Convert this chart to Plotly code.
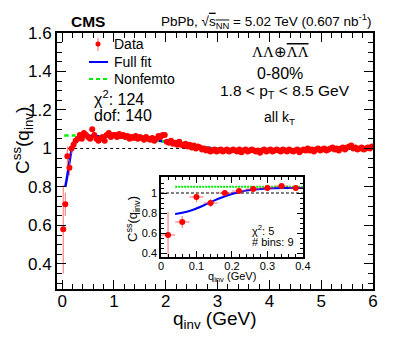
import plotly.graph_objects as go

# ---------------- data ----------------
bin_width = 0.04
values = [
    0.58, 0.71, 0.96, 0.90, 1.00, 1.02, 1.04, 1.05, 1.07, 1.05,
    1.08, 1.07, 1.06, 1.05, 1.10, 1.07, 1.05, 1.04, 1.05, 1.06,
    1.04, 1.07, 1.08, 1.06, 1.07, 1.07, 1.06, 1.075, 1.065, 1.07,
    1.06, 1.065, 1.05, 1.06, 1.055, 1.065, 1.05, 1.06, 1.055, 1.045,
    1.06, 1.05, 1.045, 1.055, 1.04, 1.05, 1.065, 1.06, 1.07, 1.07,
    1.035, 1.03, 1.04, 1.025, 1.03, 1.02, 1.035, 1.02, 1.015, 1.025,
    1.01, 1.02, 1.005, 1.015, 1.0, 1.01, 1.005, 0.995, 1.0, 0.99,
    0.995, 0.985, 0.99, 0.995, 0.985, 0.99, 0.995, 0.985, 0.99, 0.995,
    0.985, 0.99, 0.995, 0.99, 0.985, 0.995, 0.98, 0.99, 0.995, 0.985,
    0.99, 0.995, 0.99, 0.985, 0.99, 0.978, 0.99, 0.995, 0.985, 0.99,
    0.995, 0.985, 0.99, 0.995, 0.99, 0.985, 0.995, 0.99, 0.985, 0.995,
    0.99, 0.985, 0.99, 0.995, 0.98, 0.99, 0.995, 0.99, 1.0, 0.99,
    0.995, 0.985, 0.995, 1.0, 0.99, 0.995, 1.0, 0.99, 0.995, 1.0,
    1.005, 0.995, 1.0, 0.99, 1.0, 1.005, 0.995, 1.005, 1.01, 1.015,
    1.0, 1.005, 0.995, 1.0, 1.005, 0.995, 1.0, 1.005, 1.0, 1.01,
]
errors = [
    0.23, 0.06, 0.05, 0.04, 0.03, 0.02, 0.015, 0.012, 0.012, 0.011,
    0.011, 0.01, 0.01, 0.01, 0.01, 0.01, 0.01, 0.01, 0.01, 0.01,
    0.009, 0.009, 0.009, 0.009, 0.009, 0.009, 0.009, 0.009, 0.009, 0.009,
    0.008, 0.008, 0.008, 0.008, 0.008, 0.008, 0.008, 0.008, 0.008, 0.008,
    0.008, 0.008, 0.008, 0.008, 0.008, 0.008, 0.008, 0.008, 0.008, 0.008,
    0.007, 0.007, 0.007, 0.007, 0.007, 0.007, 0.007, 0.007, 0.007, 0.007,
    0.007, 0.007, 0.007, 0.007, 0.007, 0.007, 0.007, 0.007, 0.007, 0.007,
    0.007, 0.007, 0.007, 0.007, 0.007, 0.007, 0.007, 0.007, 0.007, 0.007,
    0.007, 0.007, 0.007, 0.007, 0.007, 0.007, 0.007, 0.007, 0.007, 0.007,
    0.007, 0.007, 0.007, 0.007, 0.007, 0.007, 0.007, 0.007, 0.007, 0.007,
    0.007, 0.007, 0.007, 0.007, 0.007, 0.007, 0.007, 0.007, 0.007, 0.007,
    0.007, 0.007, 0.007, 0.007, 0.007, 0.007, 0.007, 0.007, 0.007, 0.007,
    0.007, 0.007, 0.007, 0.007, 0.007, 0.007, 0.007, 0.007, 0.007, 0.007,
    0.007, 0.007, 0.007, 0.007, 0.007, 0.007, 0.007, 0.007, 0.007, 0.007,
    0.007, 0.007, 0.007, 0.007, 0.007, 0.007, 0.007, 0.007, 0.007, 0.007,
]
q_centers = [round(bin_width * (i + 0.5), 2) for i in range(len(values))]

# non-femtoscopic background
bg_q = [0.04, 0.5, 1.0, 1.5, 2.0, 2.5, 3.0, 3.5, 4.0, 4.5, 5.0, 5.5, 6.0]
bg_val = [1.068, 1.066, 1.06, 1.05, 1.035, 1.015, 0.998, 0.992, 0.991, 0.993, 0.995, 0.998, 1.0]

# full fit (blue)
fit_q = [0.06, 0.10, 0.14, 0.18, 0.22, 0.26, 0.30, 0.36, 0.5, 1.0, 1.5, 2.0, 2.5, 3.0, 3.5, 4.0, 4.5, 5.0, 5.5, 6.0]
fit_val = [0.80, 0.86, 0.93, 0.99, 1.03, 1.05, 1.06, 1.066, 1.066, 1.06, 1.05, 1.035, 1.015, 0.998, 0.992, 0.991, 0.993, 0.995, 0.998, 1.0]

# inset
n_inset = 10
inset_fit_q = [0.04, 0.08, 0.12, 0.16, 0.20, 0.24, 0.28, 0.32, 0.36, 0.40]
inset_fit_val = [0.79, 0.82, 0.875, 0.94, 0.99, 1.025, 1.04, 1.048, 1.05, 1.05]
inset_bg_q = [0.04, 0.40]
inset_bg_val = [1.062, 1.062]

main_xticks = [0, 1, 2, 3, 4, 5, 6]
main_yticks = [0.4, 0.6, 0.8, 1.0, 1.2, 1.4, 1.6]
main_yticklabels = ["0.4", "0.6", "0.8", "1", "1.2", "1.4", "1.6"]
inset_xticks = [0, 0.1, 0.2, 0.3, 0.4]
inset_xticklabels = ["0", "0.1", "0.2", "0.3", "0.4"]
inset_yticks = [0.4, 0.6, 0.8, 1.0]
inset_yticklabels = ["0.4", "0.6", "0.8", "1"]

# ---------------- figure ----------------
SANS = "Liberation Sans, Arial, Helvetica, sans-serif"
SERIF = "Liberation Serif, Times New Roman, serif"
RED = "#ff0000"
ERRC = "rgba(255,60,60,0.75)"
BLUE = "#0000ff"
GREEN = "#00ee00"

fig = go.Figure()

# main reference line at 1
fig.add_trace(go.Scatter(x=[0, 6], y=[1, 1], mode="lines",
                         line=dict(color="black", width=1, dash="3px,3px"),
                         xaxis="x", yaxis="y", hoverinfo="skip"))
fig.add_trace(go.Scatter(x=fit_q, y=fit_val, mode="lines", line_shape="spline",
                         line=dict(color=BLUE, width=2.5), xaxis="x", yaxis="y"))
fig.add_trace(go.Scatter(x=bg_q, y=bg_val, mode="lines", line_shape="spline",
                         line=dict(color=GREEN, width=2.5, dash="4px,3px"), xaxis="x", yaxis="y"))
fig.add_trace(go.Scatter(x=q_centers, y=values, mode="markers",
                         marker=dict(color=RED, size=6),
                         error_y=dict(type="data", array=errors, color=ERRC, thickness=1, width=0),
                         error_x=dict(type="constant", value=bin_width / 2, color=ERRC, thickness=1, width=0),
                         xaxis="x", yaxis="y"))

# inset
fig.add_trace(go.Scatter(x=[0, 0.4], y=[1, 1], mode="lines",
                         line=dict(color="black", width=1, dash="3px,2px"),
                         xaxis="x2", yaxis="y2", hoverinfo="skip"))
fig.add_trace(go.Scatter(x=inset_bg_q, y=inset_bg_val, mode="lines",
                         line=dict(color=GREEN, width=2, dash="2px,1px"), xaxis="x2", yaxis="y2"))
fig.add_trace(go.Scatter(x=inset_fit_q, y=inset_fit_val, mode="lines", line_shape="spline",
                         line=dict(color=BLUE, width=2), xaxis="x2", yaxis="y2"))
fig.add_trace(go.Scatter(x=q_centers[:n_inset], y=values[:n_inset], mode="markers",
                         marker=dict(color=RED, size=6),
                         error_y=dict(type="data", array=errors[:n_inset], color=ERRC, thickness=1, width=0),
                         error_x=dict(type="constant", value=bin_width / 2, color=ERRC, thickness=1, width=0),
                         xaxis="x2", yaxis="y2"))

axis_common = dict(showgrid=False, zeroline=False, showline=True, linecolor="black",
                   mirror="allticks", ticks="inside", tickcolor="black")

fig.update_layout(
    width=407, height=337,
    margin=dict(l=57, r=34, t=33, b=48),
    paper_bgcolor="white", plot_bgcolor="white",
    showlegend=False,
    font=dict(family=SANS, color="black"),
    xaxis=dict(**axis_common, range=[-0.1, 6], domain=[0, 1], anchor="y",
               tickvals=main_xticks, ticklen=9, tickwidth=1, linewidth=2,
               ticklabelstandoff=-4,
               minor=dict(dtick=0.2, ticklen=5, ticks="inside", tickcolor="black"),
               tickfont=dict(size=17, family=SANS)),
    yaxis=dict(**axis_common, range=[0.27, 1.6], domain=[0, 1], anchor="x",
               tickvals=main_yticks, ticktext=main_yticklabels, ticklen=9, tickwidth=1, linewidth=2,
               minor=dict(dtick=0.05, ticklen=5, ticks="inside", tickcolor="black"),
               tickfont=dict(size=17, family=SANS)),
    xaxis2=dict(**axis_common, range=[0, 0.4], domain=[0.329, 0.778], anchor="y2",
                tickvals=inset_xticks, ticktext=inset_xticklabels, ticklen=6, tickwidth=1, linewidth=1.5,
                ticklabelstandoff=-2,
                minor=dict(dtick=0.02, ticklen=3, ticks="inside", tickcolor="black"),
                tickfont=dict(size=11, family=SANS)),
    yaxis2=dict(**axis_common, range=[0.36, 1.16], domain=[0.125, 0.4375], anchor="x2",
                tickvals=inset_yticks, ticktext=inset_yticklabels, ticklen=6, tickwidth=1, linewidth=1.5,
                minor=dict(dtick=0.05, ticklen=3, ticks="inside", tickcolor="black"),
                tickfont=dict(size=11, family=SANS)),
)

def px(xp):
    return (xp - 57) / 316.0

def py(yp):
    return (289 - yp) / 256.0

ann = []
def add_text(text, x, y, size, xanchor="left", family=SANS, angle=0, yanchor="middle"):
    ann.append(dict(text=text, x=px(x), y=py(y), xref="paper", yref="paper",
                    xanchor=xanchor, yanchor=yanchor, showarrow=False, textangle=angle,
                    font=dict(size=size, family=family, color="black")))

add_text("<b>CMS</b>", 88, 21, 15.5, xanchor="center")
add_text("PbPb, √<span style='text-decoration:overline'>s<sub>NN</sub></span> = 5.02 TeV (0.607 nb<sup>-1</sup>)",
         373, 21, 13.5, xanchor="right")
add_text("Data", 112, 44, 14)
add_text("Full fit", 112, 62, 14)
add_text("Nonfemto", 112, 79, 14)
add_text("χ<sup>2</sup>: 124", 92, 98, 16)
add_text("dof: 140", 92, 115, 16)
add_text("ΛΛ⊕<span style='text-decoration:overline'>ΛΛ</span>", 280, 52, 15, xanchor="center", family=SERIF)
add_text("0-80%", 280, 73, 16, xanchor="center")
add_text("1.8 &lt; p<sub>T</sub> &lt; 8.5 GeV", 285, 91, 15.5, xanchor="center")
add_text("all k<sub>T</sub>", 279, 118, 14, xanchor="center")
add_text("q<sub>inv</sub> (GeV)", 215, 320, 19, xanchor="center")
add_text("C<sup>ss</sup>(q<sub>inv</sub>)", 22, 141, 19, xanchor="center", angle=-90)
add_text("χ<sup>2</sup>: 5", 250, 230, 11)
add_text("# bins: 9", 250, 242, 11)
add_text("q<sub>inv</sub> (GeV)", 232, 277, 11, xanchor="center")
add_text("C<sup>ss</sup>(q<sub>inv</sub>)", 133, 219, 13, xanchor="center", angle=-90)
fig.update_layout(annotations=ann)

# manual legend symbols
shapes = [
    dict(type="line", xref="paper", yref="paper", x0=px(98), x1=px(98), y0=py(38), y1=py(51),
         line=dict(color=ERRC, width=1)),
    dict(type="circle", xref="paper", yref="paper", x0=px(95.5), x1=px(100.5), y0=py(41.5), y1=py(46.5),
         fillcolor=RED, line=dict(color=RED, width=0)),
    dict(type="line", xref="paper", yref="paper", x0=px(89), x1=px(108), y0=py(62), y1=py(62),
         line=dict(color=BLUE, width=2)),
    dict(type="line", xref="paper", yref="paper", x0=px(89), x1=px(108), y0=py(79), y1=py(79),
         line=dict(color=GREEN, width=2, dash="4px,3px")),
]
fig.update_layout(shapes=shapes)

fig.write_html("out.html", config={"displayModeBar": False},
               post_script="document.body.style.margin='0';")
